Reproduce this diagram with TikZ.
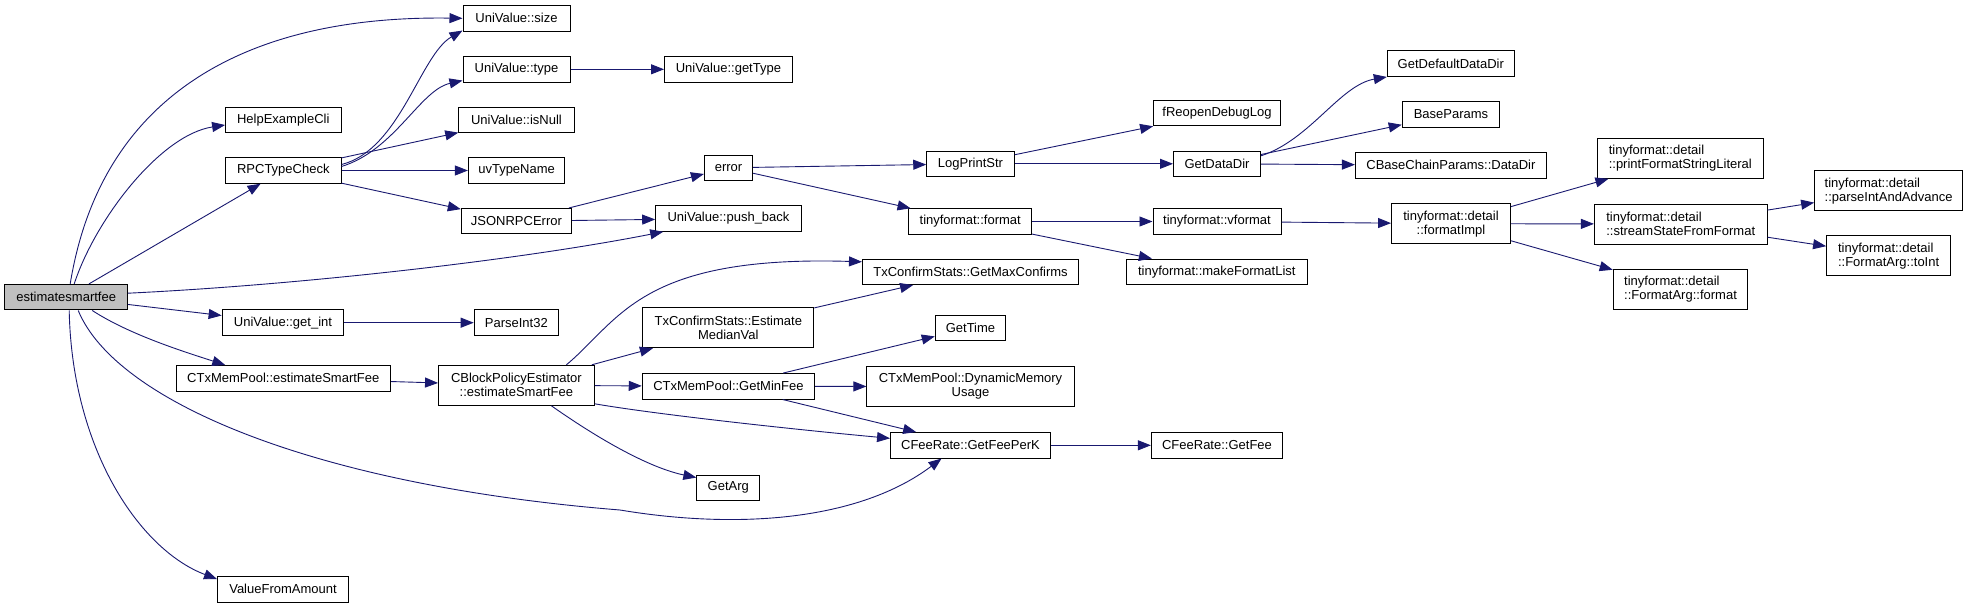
\documentclass[tikz,border=0pt]{standalone}
\usepackage{fontspec}
\setmainfont{Liberation Sans}
\usetikzlibrary{arrows.meta}
\definecolor{edgeblue}{RGB}{25,25,112}
\definecolor{rootgray}{RGB}{191,191,191}

\begin{document}
\begin{tikzpicture}[x=1pt, y=-1pt,
    fn/.style={rectangle, draw=black, line width=1pt, fill=white, minimum width=#1pt,
               minimum height=25.5pt, inner sep=1pt, font=\fontsize{13}{14}\selectfont},
    fn2/.style={fn=#1, minimum height=40pt, align=center},
    fnl/.style={fn=#1, minimum height=40pt, align=left},
    callto/.style={draw=edgeblue, line width=0.9pt, -{Triangle[length=13pt, width=10pt]}},
]
\fill[white] (0,0) rectangle (1968,608);
\useasboundingbox (0,0) rectangle (1968,608);

% column 0 and 1
\node[fn=122.5, fill=rootgray] (est) at (66.2,297.2) {estimatesmartfee};
\node[fn=115.4] (help)   at (283.3,120)   {HelpExampleCli};
\node[fn=115.4] (rpc)    at (283.3,170.5) {RPCTypeCheck};
\node[fn=121.7] (getint) at (283,322.7)   {UniValue::get\_int};
\node[fn=214.6] (mpest)  at (283.3,378.3) {CTxMemPool::estimateSmartFee};
\node[fn=131]   (vfa)    at (283,589.3)   {ValueFromAmount};

% column 2
\node[fn=107]   (size)   at (516.5,18.3)  {UniValue::size};
\node[fn=107]   (type)   at (516.5,69.3)  {UniValue::type};
\node[fn=115.3] (isnull) at (516.4,120)   {UniValue::isNull};
\node[fn=96.4]  (uvname) at (516.6,170.5) {uvTypeName};
\node[fn=110.2] (json)   at (516.4,221.2) {JSONRPCError};
\node[fn=84.2]  (parse)  at (516.3,322.7) {ParseInt32};
\node[fn2=155.7] (cbpe)  at (516.4,385.3) {CBlockPolicyEstimator\\::estimateSmartFee};

% column 3
\node[fn=127.7] (gettype) at (728.4,69.3)  {UniValue::getType};
\node[fn=48.2]  (error)   at (728.5,167.8) {error};
\node[fn=145.6] (push)    at (728.5,218.5) {UniValue::push\_back};
\node[fn2=171]  (emv)     at (728.3,327.7) {TxConfirmStats::Estimate\\MedianVal};
\node[fn=172.3] (gmf)     at (728.4,386.3) {CTxMemPool::GetMinFee};
\node[fn=62.9]  (getarg)  at (728.3,487.8) {GetArg};

% column 4
\node[fn=87.5]  (log)     at (970.5,163.8) {LogPrintStr};
\node[fn=122.8] (fmt)     at (970.2,221.5) {tinyformat::format};
\node[fn=216.1] (gmc)     at (970.5,271.8) {TxConfirmStats::GetMaxConfirms};
\node[fn=70.5]  (gettime) at (970.5,327.8) {GetTime};
\node[fn2=207.1] (dmu)    at (970.5,386.5) {CTxMemPool::DynamicMemory\\Usage};
\node[fn=159.9] (feek)    at (970.5,445.3) {CFeeRate::GetFeePerK};

% column 5
\node[fn=126.8] (reopen)  at (1217,113.2)  {fReopenDebugLog};
\node[fn=87]    (datadir) at (1217,163.8)  {GetDataDir};
\node[fn=128]   (vfmt)    at (1217,221.5)  {tinyformat::vformat};
\node[fn=181.5] (mkfl)    at (1216.8,271.8) {tinyformat::makeFormatList};
\node[fn=131.2] (fee)     at (1217,445.3)  {CFeeRate::GetFee};

% column 6 to 8
\node[fn=127]   (defdir)     at (1450.8,63.7)  {GetDefaultDataDir};
\node[fn=97.5]  (baseparams) at (1451,114.3)   {BaseParams};
\node[fn=190.9] (chaindir)   at (1450.9,165.3) {CBaseChainParams::DataDir};
\node[fn2=118.9] (impl)      at (1451,223.7)   {tinyformat::detail\\::formatImpl};
\node[fnl=165.7] (pfsl)      at (1680.3,158.3) {tinyformat::detail\\::printFormatStringLiteral};
\node[fnl=172.6] (ssff)      at (1680.7,224)   {tinyformat::detail\\::streamStateFromFormat};
\node[fnl=134.6] (faf)       at (1680.5,289)   {tinyformat::detail\\::FormatArg::format};
\node[fnl=147.9] (piaa)      at (1888.6,190.7) {tinyformat::detail\\::parseIntAndAdvance};
\node[fnl=124]   (toint)     at (1888.6,255.7) {tinyformat::detail\\::FormatArg::toInt};

% calls from estimatesmartfee
\draw[callto] ([xshift=4pt]est.north) .. controls (100,100) and (240,15) .. (size.west);
\draw[callto] ([xshift=8pt]est.north) .. controls (95,220) and (160,135) .. ([yshift=-5pt]help.west);
\draw[callto] (est) -- (rpc);
\draw[callto] ([yshift=4pt]est.east) .. controls (300,285) and (520,260) .. ([xshift=8pt]push.south west);
\draw[callto] (est) -- (getint);
\draw[callto] ([xshift=26pt]est.south) .. controls (130,335) and (185,352) .. ([xshift=-58pt]mpest.north);
\draw[callto] ([xshift=12pt]est.south) .. controls (115,400) and (310,485) .. (620,510)
              .. controls (740,530) and (860,520) .. ([xshift=-29pt]feek.south);
\draw[callto] ([xshift=3pt]est.south) .. controls (72,450) and (140,550) .. ([yshift=-3pt]vfa.north west);

% RPCTypeCheck
\draw[callto] ([yshift=6pt]rpc.east) .. controls (400,150) and (420,55) .. ([yshift=1pt]size.south west);
\draw[callto] ([yshift=4pt]rpc.east) .. controls (395,150) and (420,90) .. ([yshift=2pt]type.south west);
\draw[callto] (rpc) -- (isnull);
\draw[callto] (rpc) -- (uvname);
\draw[callto] (rpc) -- (json);
\draw[callto] (type) -- (gettype);
\draw[callto] (json) -- (error);
\draw[callto] (json) -- (push);

% error and logging
\draw[callto] (error) -- (log);
\draw[callto] (error) -- (fmt);
\draw[callto] (log) -- (reopen);
\draw[callto] (log) -- (datadir);
\draw[callto] ([yshift=8pt]datadir.east) .. controls (1310,140) and (1340,85) .. (defdir.south west);
\draw[callto] (datadir) -- (baseparams);
\draw[callto] (datadir) -- (chaindir);
\draw[callto] (fmt) -- (vfmt);
\draw[callto] (fmt) -- (mkfl);
\draw[callto] (vfmt) -- (impl);
\draw[callto] (impl) -- (pfsl);
\draw[callto] (impl) -- (ssff);
\draw[callto] (impl) -- (faf);
\draw[callto] (ssff) -- (piaa);
\draw[callto] (ssff) -- (toint);

% fee estimation
\draw[callto] (getint) -- (parse);
\draw[callto] (mpest) -- (cbpe);
\draw[callto] ([xshift=50pt]cbpe.north) .. controls (620,320) and (640,255) .. ([yshift=10pt]gmc.west);
\draw[callto] (cbpe) -- (emv);
\draw[callto] (emv) -- (gmc);
\draw[callto] (cbpe) -- (gmf);
\draw[callto] ([yshift=2pt]cbpe.south east) .. controls (660,415) and (800,430) .. ([yshift=7pt]feek.west);
\draw[callto] ([xshift=35pt]cbpe.south) .. controls (600,440) and (650,468) .. ([yshift=-3pt]getarg.north west);
\draw[callto] (gmf) -- (gettime);
\draw[callto] (gmf) -- (dmu);
\draw[callto] (gmf) -- (feek);
\draw[callto] (feek) -- (fee);
\end{tikzpicture}
\end{document}
